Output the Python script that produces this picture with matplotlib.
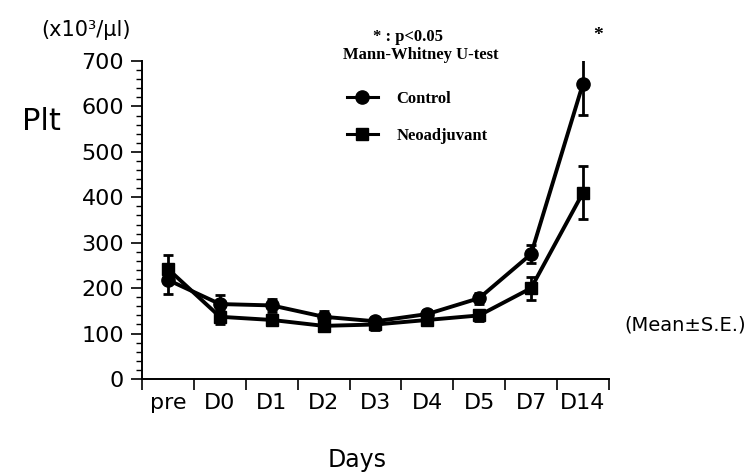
import numpy as np
import matplotlib
matplotlib.use("Agg")
import matplotlib.pyplot as plt
from matplotlib.lines import Line2D

# values (x10^3/ul)
days = ["pre", "D0", "D1", "D2", "D3", "D4", "D5", "D7", "D14"]
control = [218, 165, 162, 137, 127, 143, 178, 275, 650]
control_se = [30, 20, 15, 12, 10, 10, 12, 20, 68]
neo = [242, 137, 130, 117, 120, 130, 140, 200, 410]
neo_se = [30, 15, 12, 12, 12, 12, 12, 25, 58]

sans = "DejaVu Sans"
serif = "Liberation Serif"

fig = plt.figure(figsize=(7.48, 4.74), dpi=100)
ax = fig.add_axes([0.19, 0.2004, 0.624, 0.6709])

x = np.arange(len(days))
ax.errorbar(x, control, yerr=control_se, color="black", lw=2.8, marker="o",
            ms=9.5, capsize=3.8, capthick=2, elinewidth=2)
ax.errorbar(x, neo, yerr=neo_se, color="black", lw=2.8, marker="s",
            ms=9, capsize=3.8, capthick=2, elinewidth=2)

ax.set_xlim(-0.5, len(days) - 0.5)
ax.set_ylim(0, 700)
ax.set_yticks(np.arange(0, 701, 100))
ax.set_yticks(np.arange(0, 701, 20), minor=True)
ax.set_xticks(np.arange(-0.5, len(days), 1.0))
ax.set_xticklabels([])
ax.set_xticks(x, minor=True)
ax.set_xticklabels(days, minor=True, fontsize=16, family=sans)
ax.tick_params(axis="x", which="minor", length=0, pad=10)
ax.tick_params(axis="x", which="major", length=8, width=1.2)
ax.tick_params(axis="y", which="major", length=8, width=1.2, labelsize=16, pad=5)
ax.tick_params(axis="y", which="minor", length=4, width=1)
for lab in ax.get_yticklabels():
    lab.set_family(sans)
for s in ["top", "right"]:
    ax.spines[s].set_visible(False)
for s in ["left", "bottom"]:
    ax.spines[s].set_linewidth(1.4)

handles = [Line2D([], [], color="black", lw=2.2, marker="o", ms=9.5),
           Line2D([], [], color="black", lw=2.2, marker="s", ms=9)]
ax.legend(handles, ["Control", "Neoadjuvant"], loc="upper left",
          bbox_to_anchor=(0.464, 0.808), bbox_transform=fig.transFigure,
          frameon=False, borderpad=0, borderaxespad=0,
          handlelength=1.85, handletextpad=1.1, labelspacing=1.25,
          prop={"family": serif, "weight": "bold", "size": 12})

fig.text(0.115, 0.937, "(x10³/µl)", fontsize=15, family=sans, ha="center", va="center")
fig.text(0.056, 0.743, "Plt", fontsize=22, family=sans, ha="center", va="center")
fig.text(0.545, 0.922, "* : p<0.05", fontsize=12, family=serif, weight="bold",
         ha="center", va="center")
fig.text(0.563, 0.883, "Mann-Whitney U-test", fontsize=12, family=serif, weight="bold",
         ha="center", va="center")
fig.text(0.8, 0.925, "*", fontsize=14, family=serif, weight="bold", ha="center", va="center")
fig.text(0.916, 0.314, "(Mean±S.E.)", fontsize=14, family=sans, ha="center", va="center")
fig.text(0.478, 0.03, "Days", fontsize=17, family=sans, ha="center", va="center")

fig.savefig("out.png", dpi=100)
